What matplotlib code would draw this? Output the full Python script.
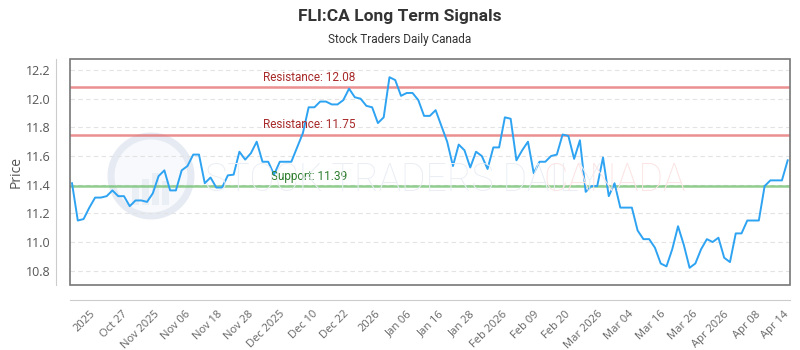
import matplotlib
matplotlib.use('agg')  # no display

import matplotlib.pyplot as plt
from matplotlib.patches import Ellipse, Rectangle
import numpy as np

title = "FLI:CA Long Term Signals"
subtitle = "Stock Traders Daily Canada"

# closing prices, one per trading session
price = [11.41, 11.15, 11.16, 11.24, 11.31, 11.31, 11.32, 11.36, 11.32, 11.32,
         11.25, 11.29, 11.29, 11.28, 11.34, 11.46, 11.50, 11.36, 11.36, 11.50,
         11.53, 11.61, 11.61, 11.41, 11.45, 11.38, 11.38, 11.465, 11.47, 11.63,
         11.575, 11.62, 11.70, 11.56, 11.56, 11.47, 11.56, 11.56, 11.56, 11.66,
         11.76, 11.94, 11.94, 11.98, 11.98, 11.96, 11.96, 11.99, 12.07, 12.01,
         12.00, 11.95, 11.94, 11.83, 11.87, 12.15, 12.13, 12.02, 12.04, 12.04,
         11.99, 11.88, 11.88, 11.92, 11.81, 11.70, 11.53, 11.68, 11.64, 11.52,
         11.63, 11.60, 11.51, 11.66, 11.66, 11.87, 11.86, 11.57, 11.64, 11.70,
         11.48, 11.56, 11.56, 11.60, 11.61, 11.75, 11.74, 11.58, 11.71, 11.35,
         11.39, 11.39, 11.59, 11.32, 11.41, 11.24, 11.24, 11.24, 11.08, 11.02,
         11.02, 10.96, 10.85, 10.83, 10.95, 11.11, 10.98, 10.82, 10.85, 10.95,
         11.02, 11.00, 11.03, 10.89, 10.86, 11.06, 11.06, 11.15, 11.15, 11.15,
         11.39, 11.43, 11.43, 11.43, 11.57]

resistance = [12.08, 11.75]
support = [11.39]

tick_labels = ["2025", "Oct 27", "Nov 2025", "Nov 06", "Nov 18", "Nov 28",
               "Dec 2025", "Dec 10", "Dec 22", "2026", "Jan 06", "Jan 16",
               "Jan 28", "Feb 2026", "Feb 09", "Feb 20", "Mar 2026", "Mar 04",
               "Mar 16", "Mar 26", "Apr 2026", "Apr 08", "Apr 14"]
tick_idx = [3.1, 8.7, 14.2, 19.6, 25.1, 30.5, 36.0, 41.6, 47.0, 52.5, 58.0,
            63.4, 68.9, 74.5, 79.9, 85.4, 91.0, 96.4, 101.9, 107.5, 112.8,
            118.4, 123.2]

narrow = ['Liberation Sans Narrow', 'Roboto', 'DejaVu Sans']
plt.rcParams['font.family'] = ['Open Sans', 'DejaVu Sans']

fig = plt.figure(figsize=(8, 3.5), dpi=100)
ax = fig.add_axes([70 / 800, 1 - 285 / 350, 720 / 800, 226 / 350])

# offset axis lines first (set_position resets the ticks)
for s in ['top', 'right']:
    ax.spines[s].set_visible(False)
ax.spines['left'].set_position(('outward', 10))
ax.spines['bottom'].set_position(('outward', 11))
ax.spines['left'].set_color('#cccccc')
ax.spines['bottom'].set_color('#cccccc')
ax.add_patch(Rectangle((0, 0), 1, 1, transform=ax.transAxes, fill=False,
                       edgecolor='#777777', lw=1.2, clip_on=False, zorder=4))

x = np.arange(len(price))

# watermark
ax.add_patch(Ellipse((151 / 800, 1 - 176 / 350), 80 / 800, 80 / 350,
                     transform=fig.transFigure, facecolor='#f7f9fc',
                     edgecolor='#e6ebf3', lw=5, zorder=0))
for bx, bh in [(132, 18), (142, 26), (152, 32), (162, 24)]:
    ax.add_patch(Rectangle((bx / 800, 1 - 205 / 350), 7 / 800, bh / 350,
                           transform=fig.transFigure, facecolor='#eaeef5',
                           edgecolor='none', zorder=0))
fig.text(205 / 800, 1 - 180 / 350, "STOCK TRADERS DAILY", fontsize=27,
         family=['Roboto', 'DejaVu Sans'], weight='light', color='#eaeef4',
         ha='left', va='center', zorder=0.5)
fig.text(543 / 800, 1 - 180 / 350, "CANADA", fontsize=27,
         family=['Roboto', 'DejaVu Sans'], weight='light', color='#fce4e4',
         ha='left', va='center', zorder=0.5)

ax.plot(x, price, color='#2ea3f2', lw=1.4, zorder=3)

for lvl in resistance:
    ax.axhline(lvl, color='#e36b6b', lw=1.8, alpha=0.75, zorder=2)
    ax.text(0.332, lvl + 0.025, f"Resistance: {lvl:.2f}", transform=ax.get_yaxis_transform(),
            ha='center', va='bottom', fontsize=8.5, family=narrow, color='#a82a2a')
for lvl in support:
    ax.axhline(lvl, color='#6cbf6c', lw=1.8, alpha=0.75, zorder=2)
    ax.text(0.332, lvl + 0.025, f"Support: {lvl:.2f}", transform=ax.get_yaxis_transform(),
            ha='center', va='bottom', fontsize=8.5, family=narrow, color='#2f7d2f')

ax.set_xlim(-0.35, 124.4)
ax.set_ylim(10.70, 12.277)
yt = np.arange(10.8, 12.21, 0.2)
ax.set_yticks(yt)
ax.set_yticklabels([f"{v:.1f}" for v in yt])
ax.grid(axis='y', color='#e3e3e3', lw=0.8, ls=(0, (4, 3)))
ax.set_axisbelow(True)

ax.set_xticks(tick_idx)
ax.set_xticklabels(tick_labels, rotation=45, ha='right', rotation_mode='anchor')
ax.tick_params(axis='x', length=0, pad=6, labelsize=8, labelcolor='#666666')
ax.tick_params(axis='y', length=0, pad=4, labelsize=9, labelcolor='#555555')

ax.set_ylabel("Price", fontsize=10, color='#555555')
ax.yaxis.set_label_coords(-0.065, 0.5)

fig.text(0.5, 1 - 16 / 350, title, ha='center', va='center', fontsize=12.5,
         weight='bold', family=narrow, color='#333333')
fig.text(0.5, 1 - 40 / 350, subtitle, ha='center', va='center', fontsize=8.5,
         family=narrow, color='#333333')

fig.savefig("out.png", dpi=100)
